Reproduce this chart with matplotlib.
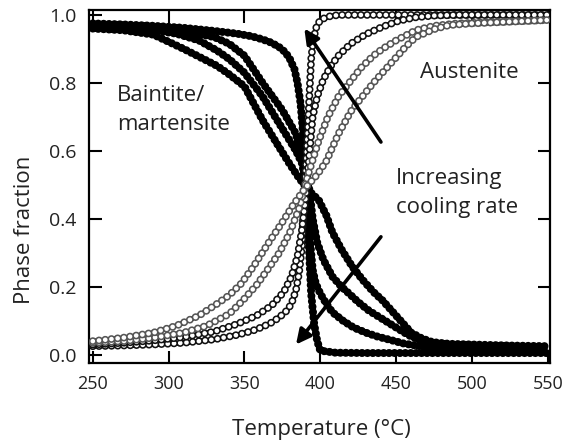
import matplotlib
matplotlib.use('Agg')
import matplotlib.pyplot as plt

plt.rcParams['font.family'] = ['Open Sans', 'DejaVu Sans']
plt.rcParams['lines.scale_dashes'] = False

# filled symbols: bainite / martensite fraction (4 cooling rates)
f1_t = [250, 270, 290, 310, 330, 345, 355, 362, 368, 373, 377, 380, 383, 385, 387, 388.5,
        390, 391, 392, 393, 394, 396, 398, 400, 410, 430, 460, 500, 530, 550]
f1_y = [0.975, 0.972, 0.968, 0.962, 0.953, 0.945, 0.937, 0.928, 0.918, 0.905, 0.89, 0.87,
        0.84, 0.80, 0.74, 0.66, 0.56, 0.47, 0.37, 0.27, 0.18, 0.09, 0.04, 0.012, 0.006,
        0.005, 0.005, 0.005, 0.005, 0.005]
f2_t = [250, 270, 290, 310, 330, 340, 350, 362, 375, 384, 388, 390, 392, 394, 395, 397,
        400, 404, 408, 415, 422, 430, 438, 445, 455, 470, 490, 520, 550]
f2_y = [0.97, 0.967, 0.962, 0.953, 0.935, 0.915, 0.88, 0.80, 0.72, 0.65, 0.57, 0.50, 0.40,
        0.30, 0.25, 0.21, 0.18, 0.15, 0.125, 0.10, 0.08, 0.065, 0.053, 0.045, 0.033, 0.022,
        0.016, 0.012, 0.01]
f3_t = [250, 270, 290, 305, 320, 332, 340, 350, 362, 373, 384, 391, 393, 395, 398, 402,
        408, 414, 419, 425, 432, 441, 450, 458, 466, 475, 490, 520, 550]
f3_y = [0.965, 0.962, 0.955, 0.945, 0.925, 0.895, 0.87, 0.83, 0.76, 0.68, 0.60, 0.535, 0.48,
        0.40, 0.33, 0.28, 0.23, 0.20, 0.18, 0.155, 0.13, 0.105, 0.08, 0.058, 0.042, 0.033,
        0.028, 0.024, 0.02]
f4_t = [250, 270, 290, 310, 332, 340, 350, 362, 373, 380, 386, 392, 399, 404, 408, 414,
        421, 428, 435, 441, 448, 455, 460, 467, 474, 485, 500, 525, 550]
f4_y = [0.96, 0.955, 0.942, 0.90, 0.85, 0.825, 0.79, 0.69, 0.61, 0.56, 0.52, 0.485, 0.455,
        0.41, 0.36, 0.31, 0.26, 0.22, 0.185, 0.16, 0.125, 0.09, 0.065, 0.048, 0.037, 0.032,
        0.03, 0.027, 0.025]

# open symbols: austenite fraction
o1_t = [250, 270, 290, 310, 330, 345, 355, 362, 368, 373, 378, 381, 384, 386, 388, 389,
        390.5, 392, 393, 394, 395.5, 397.5, 400, 405, 412, 450, 500, 550]
o1_y = [0.025, 0.027, 0.03, 0.035, 0.045, 0.058, 0.07, 0.082, 0.095, 0.11, 0.13, 0.15, 0.19,
        0.24, 0.32, 0.45, 0.55, 0.68, 0.78, 0.87, 0.93, 0.965, 0.985, 0.995, 1.0, 1.0, 1.0, 1.0]
o2_t = [250, 270, 290, 310, 330, 345, 358, 368, 376, 381, 385, 388, 390.5, 393, 395, 398,
        402, 407, 412, 420, 430, 441, 452, 463, 475, 490, 520, 550]
o2_y = [0.03, 0.035, 0.042, 0.052, 0.068, 0.09, 0.115, 0.145, 0.185, 0.23, 0.29, 0.37, 0.47,
        0.60, 0.70, 0.76, 0.81, 0.85, 0.88, 0.915, 0.943, 0.965, 0.983, 0.993, 0.998, 1.0,
        1.0, 1.0]
o3_t = [250, 270, 290, 310, 325, 340, 349, 358, 366, 373, 380, 386, 392, 399, 405, 412,
        419, 427, 435, 441, 450, 463, 475, 490, 520, 550]
o3_y = [0.035, 0.04, 0.05, 0.065, 0.085, 0.12, 0.16, 0.205, 0.255, 0.30, 0.36, 0.43, 0.53,
        0.63, 0.70, 0.76, 0.80, 0.845, 0.88, 0.90, 0.925, 0.955, 0.968, 0.975, 0.98, 0.985]
o4_t = [250, 270, 290, 305, 320, 332, 340, 348, 356, 366, 375, 382, 390, 398, 404, 412,
        420, 426, 435, 447, 456, 463, 475, 485, 500, 525, 550]
o4_y = [0.04, 0.05, 0.065, 0.085, 0.115, 0.15, 0.175, 0.21, 0.26, 0.33, 0.39, 0.44, 0.49,
        0.53, 0.57, 0.65, 0.715, 0.75, 0.80, 0.86, 0.905, 0.935, 0.958, 0.97, 0.975, 0.98,
        0.985]

filled = [(f1_t, f1_y), (f2_t, f2_y), (f3_t, f3_y), (f4_t, f4_y)]
opened = [(o1_t, o1_y, '#111111'), (o2_t, o2_y, '#111111'),
          (o3_t, o3_y, '#555555'), (o4_t, o4_y, '#555555')]

fig = plt.figure(figsize=(5.63, 4.48), dpi=100)
ax = fig.add_axes([0.158, 0.19, 0.819, 0.788])

# dense chains of circles drawn as round-capped dotted lines
for t, y in filled:
    ax.plot(t, y, color='black', lw=5.8, dashes=(0.1, 3.8), dash_capstyle='round', zorder=2)
for t, y, c in opened:
    ax.plot(t, y, color=c, lw=5.6, dashes=(0.1, 4.4), dash_capstyle='round', zorder=3)
    ax.plot(t, y, color='white', lw=3.3, dashes=(0.1, 4.4), dash_capstyle='round', zorder=3)

arrow = dict(arrowstyle='-|>', lw=2.6, color='black', mutation_scale=22, shrinkA=0, shrinkB=0)
ax.annotate('', xy=(389.5, 0.96), xytext=(440, 0.626), arrowprops=arrow, zorder=5)
ax.annotate('', xy=(384, 0.03), xytext=(440, 0.347), arrowprops=arrow, zorder=5)

ax.text(266, 0.72, 'Baintite/\nmartensite', fontsize=16, color='#222222',
        ha='left', va='center', linespacing=1.5)
ax.text(498, 0.83, 'Austenite', fontsize=16, color='#222222', ha='center', va='center')
ax.text(450, 0.475, 'Increasing\ncooling rate', fontsize=16, color='#222222',
        ha='left', va='center', linespacing=1.5)

ax.set_xlim(247.5, 551.5)
ax.set_ylim(-0.024, 1.015)
ax.set_xticks([250, 300, 350, 400, 450, 500, 550])
ax.set_yticks([0.0, 0.2, 0.4, 0.6, 0.8, 1.0])
ax.tick_params(direction='in', length=9, width=1.5, top=True, right=True,
               labelcolor='#222222')
ax.tick_params(axis='x', labelsize=13, pad=9)
ax.tick_params(axis='y', labelsize=14, pad=9)
for s in ax.spines.values():
    s.set_linewidth(1.6)

ax.set_xlabel('Temperature (°C)', fontsize=16, color='#222222', va='center')
ax.set_ylabel('Phase fraction', fontsize=16, color='#222222', va='center')
ax.xaxis.set_label_coords(0.503, -0.19)
ax.yaxis.set_label_coords(-0.14, 0.377)

fig.savefig('out.png', dpi=100)
